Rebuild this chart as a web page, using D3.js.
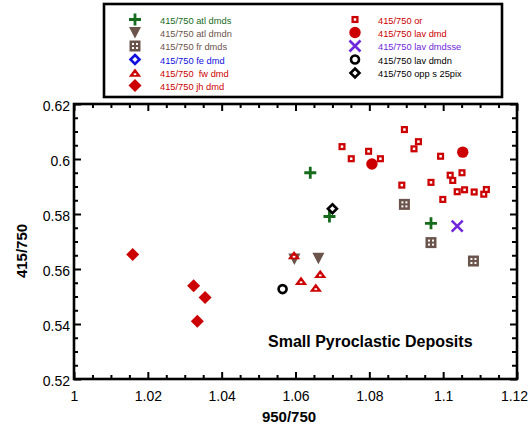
<!DOCTYPE html>
<html>
<head>
<meta charset="utf-8">
<script src="https://cdn.jsdelivr.net/npm/d3@7"></script>
<style>
  body { margin: 0; background: #fff; }
  svg { display: block; font-family: "Liberation Sans", Arial, sans-serif; }
  .legend-label { white-space: pre; }
</style>
</head>
<body>
<svg id="chart" width="529" height="427"></svg>
<script>
// Axis ticks
const xTickValues = [1, 1.02, 1.04, 1.06, 1.08, 1.1, 1.12];
const xTickLabels = ["1", "1.02", "1.04", "1.06", "1.08", "1.1", "1.12"];
const yTickValues = [0.52, 0.54, 0.56, 0.58, 0.6, 0.62];
const yTickLabels = ["0.52", "0.54", "0.56", "0.58", "0.6", "0.62"];

// Series names, in legend order
const seriesNames = [
  "415/750 atl dmds", "415/750 atl dmdn", "415/750 fr dmds", "415/750 fe dmd",
  "415/750  fw dmd", "415/750 jh dmd", "415/750 or", "415/750 lav dmd",
  "415/750 lav dmdsse", "415/750 lav dmdn", "415/750 opp s 25pix"
];

// Points: [950/750, 415/750]
const atlDmds = [[1.0640, 0.5950], [1.0692, 0.5791], [1.0967, 0.5766]];
const atlDmdn = [[1.0597, 0.5636], [1.0662, 0.5639]];
const frDmds = [[1.0895, 0.5835], [1.0967, 0.5696], [1.1082, 0.5629]];
const feDmd = [];
const fwDmd = [[1.0596, 0.5649], [1.0667, 0.5581], [1.0615, 0.5556], [1.0655, 0.5531]];
const jhDmd = [[1.0159, 0.5653], [1.0324, 0.5539], [1.0355, 0.5496], [1.0334, 0.5410]];
const orPts = [
  [1.0726, 0.6045], [1.0751, 0.6001], [1.0798, 0.6028], [1.0830, 0.6001],
  [1.0895, 0.6107], [1.0933, 0.6063], [1.0921, 0.6037], [1.0993, 0.6010],
  [1.0888, 0.5905], [1.0967, 0.5915], [1.1019, 0.5941], [1.1026, 0.5922],
  [1.1051, 0.5950], [1.0999, 0.5853], [1.1038, 0.5881], [1.1058, 0.5888],
  [1.1084, 0.5880], [1.1110, 0.5872], [1.1117, 0.5889]
];
const lavDmd = [[1.0807, 0.5982], [1.1053, 0.6025]];
const lavDmdsse = [[1.1038, 0.5756]];
const lavDmdn = [[1.0565, 0.5527]];
const oppS25pix = [[1.0700, 0.5819]];

const seriesData = [atlDmds, atlDmdn, frDmds, feDmd, fwDmd, jhDmd, orPts, lavDmd, lavDmdsse, lavDmdn, oppS25pix];

// Marker style per series
const GREEN = "#176b1d", BROWN = "#6b544c", BLUE = "#1010e0", RED = "#cc0000", PURPLE = "#7028dc", BLACK = "#000";
const seriesStyle = [
  { shape: "plus", color: GREEN },
  { shape: "triDown", color: BROWN },
  { shape: "squareHoles", color: BROWN },
  { shape: "diamondOpen", color: BLUE },
  { shape: "triUpDot", color: RED },
  { shape: "diamondFilled", color: RED },
  { shape: "squareOpen", color: RED },
  { shape: "circleFilled", color: RED },
  { shape: "cross", color: PURPLE },
  { shape: "circleOpen", color: BLACK },
  { shape: "diamondOpen", color: BLACK }
];

function drawMarker(g, shape, color) {
  switch (shape) {
    case "plus":
      g.append("path").attr("d", "M-6,0H6M0,-6V6").attr("stroke", color).attr("stroke-width", 2.8).attr("fill", "none");
      break;
    case "triDown":
      g.append("path").attr("d", "M-6,-5.5L6,-5.5L0,6Z").attr("fill", color);
      break;
    case "squareHoles":
      g.append("rect").attr("x", -5.5).attr("y", -5.5).attr("width", 11).attr("height", 11).attr("fill", color);
      [[-3, -3], [1, -3], [-3, 1], [1, 1]].forEach(([dx, dy]) =>
        g.append("rect").attr("x", dx).attr("y", dy).attr("width", 2).attr("height", 2).attr("fill", "#fff"));
      break;
    case "diamondOpen":
      g.append("path").attr("d", "M0,-4.5L4.5,0L0,4.5L-4.5,0Z").attr("stroke", color).attr("stroke-width", 2.6).attr("fill", "#fff");
      break;
    case "triUpDot":
      g.append("path").attr("d", "M0,-4.5L6.2,3.8L-6.2,3.8Z").attr("fill", color);
      g.append("rect").attr("x", -1.3).attr("y", 0.3).attr("width", 2.6).attr("height", 1.8).attr("fill", "#fff");
      break;
    case "diamondFilled":
      g.append("path").attr("d", "M0,-6.5L6.5,0L0,6.5L-6.5,0Z").attr("fill", color);
      break;
    case "squareOpen":
      g.append("rect").attr("x", -2.4).attr("y", -2.4).attr("width", 4.8).attr("height", 4.8)
        .attr("stroke", color).attr("stroke-width", 2.3).attr("fill", "#fff");
      break;
    case "circleFilled":
      g.append("circle").attr("r", 5.7).attr("fill", color);
      break;
    case "cross":
      g.append("path").attr("d", "M-5.5,-5.5L5.5,5.5M-5.5,5.5L5.5,-5.5").attr("stroke", color).attr("stroke-width", 2.6).attr("fill", "none");
      break;
    case "circleOpen":
      g.append("circle").attr("r", 4).attr("stroke", color).attr("stroke-width", 2.6).attr("fill", "none");
      break;
  }
}

const svg = d3.select("#chart");
const plot = { left: 74, right: 517, top: 104, bottom: 379 };

const x = d3.scaleLinear().domain([1, 1.12]).range([plot.left, plot.right]);
const y = d3.scaleLinear().domain([0.52, 0.62]).range([plot.bottom, plot.top]);

const xMinor = d3.range(0, 25).map(i => 1 + i * 0.005).filter(v => !xTickValues.some(t => Math.abs(t - v) < 1e-9));
const yMinor = d3.range(0, 21).map(i => 0.52 + i * 0.005).filter(v => !yTickValues.some(t => Math.abs(t - v) < 1e-9));

// Axes with inward ticks on all four sides
function styleAxis(sel) {
  sel.selectAll(".domain").remove();
  sel.selectAll(".tick line").attr("stroke", "#000").attr("stroke-width", 2);
  sel.selectAll(".tick text").attr("fill", "#000").attr("font-size", 14)
    .attr("font-family", "'Liberation Sans', Arial, sans-serif");
}

const gx = svg.append("g").attr("transform", `translate(0,${plot.bottom})`)
  .call(d3.axisBottom(x).tickValues(xTickValues).tickFormat((d, i) => xTickLabels[i]).tickSizeInner(-7).tickPadding(11));
styleAxis(gx);
gx.selectAll(".tick text").attr("dy", "0.71em").attr("y", 12)
  .attr("dx", (d, i) => i === xTickValues.length - 1 ? -3 : 0);

svg.append("g").attr("transform", `translate(0,${plot.bottom})`)
  .call(d3.axisBottom(x).tickValues(xMinor).tickFormat("").tickSizeInner(-4)).call(styleAxis);

const gxt = svg.append("g").attr("transform", `translate(0,${plot.top})`)
  .call(d3.axisTop(x).tickValues(xTickValues).tickFormat("").tickSizeInner(-7));
styleAxis(gxt);
svg.append("g").attr("transform", `translate(0,${plot.top})`)
  .call(d3.axisTop(x).tickValues(xMinor).tickFormat("").tickSizeInner(-4)).call(styleAxis);

const gy = svg.append("g").attr("transform", `translate(${plot.left},0)`)
  .call(d3.axisLeft(y).tickValues(yTickValues).tickFormat((d, i) => yTickLabels[i]).tickSizeInner(-7).tickPadding(12));
styleAxis(gy);
gy.selectAll(".tick text").attr("x", -4).attr("dy", "0.45em");

svg.append("g").attr("transform", `translate(${plot.left},0)`)
  .call(d3.axisLeft(y).tickValues(yMinor).tickFormat("").tickSizeInner(-4)).call(styleAxis);

svg.append("g").attr("transform", `translate(${plot.right},0)`)
  .call(d3.axisRight(y).tickValues(yTickValues).tickFormat("").tickSizeInner(-7)).call(styleAxis);
svg.append("g").attr("transform", `translate(${plot.right},0)`)
  .call(d3.axisRight(y).tickValues(yMinor).tickFormat("").tickSizeInner(-5)).call(styleAxis);

// Frame
svg.append("rect").attr("x", plot.left).attr("y", plot.top)
  .attr("width", plot.right - plot.left).attr("height", plot.bottom - plot.top)
  .attr("fill", "none").attr("stroke", "#000").attr("stroke-width", 2.6);

// Axis titles
svg.append("text").attr("x", 289).attr("y", 422).attr("text-anchor", "middle")
  .attr("font-size", 15).attr("font-weight", "bold").text("950/750");
svg.append("text").attr("transform", "translate(27,251) rotate(-90)").attr("text-anchor", "middle")
  .attr("font-size", 15).attr("font-weight", "bold").text("415/750");

// Annotation
svg.append("text").attr("x", 268).attr("y", 347).attr("font-size", 16).attr("font-weight", "bold")
  .text("Small Pyroclastic Deposits");

// Points
seriesData.forEach((pts, i) => {
  const st = seriesStyle[i];
  pts.forEach(([vx, vy]) => {
    const g = svg.append("g").attr("transform", `translate(${x(vx)},${y(vy)})`);
    drawMarker(g, st.shape, st.color);
  });
});

// Legend
const legend = svg.append("g");
legend.append("rect").attr("x", 104).attr("y", 4).attr("width", 398).attr("height", 93)
  .attr("fill", "#fff").attr("stroke", "#000").attr("stroke-width", 2.6);

const legendRowY = [19.5, 32.5, 46, 59.5, 73, 85.5];
seriesNames.forEach((name, i) => {
  const col = i < 6 ? 0 : 1;
  const row = i < 6 ? i : i - 6;
  const mx = col === 0 ? 135 : 355;
  const tx = col === 0 ? 160 : 378;
  const yy = legendRowY[row];
  const g = legend.append("g").attr("transform", `translate(${mx},${yy})`);
  drawMarker(g, seriesStyle[i].shape, seriesStyle[i].color);
  legend.append("text").attr("class", "legend-label").attr("x", tx).attr("y", yy + 1.5).attr("dy", "0.32em")
    .attr("font-size", 9.3).attr("fill", seriesStyle[i].color).text(name);
});
</script>
</body>
</html>
